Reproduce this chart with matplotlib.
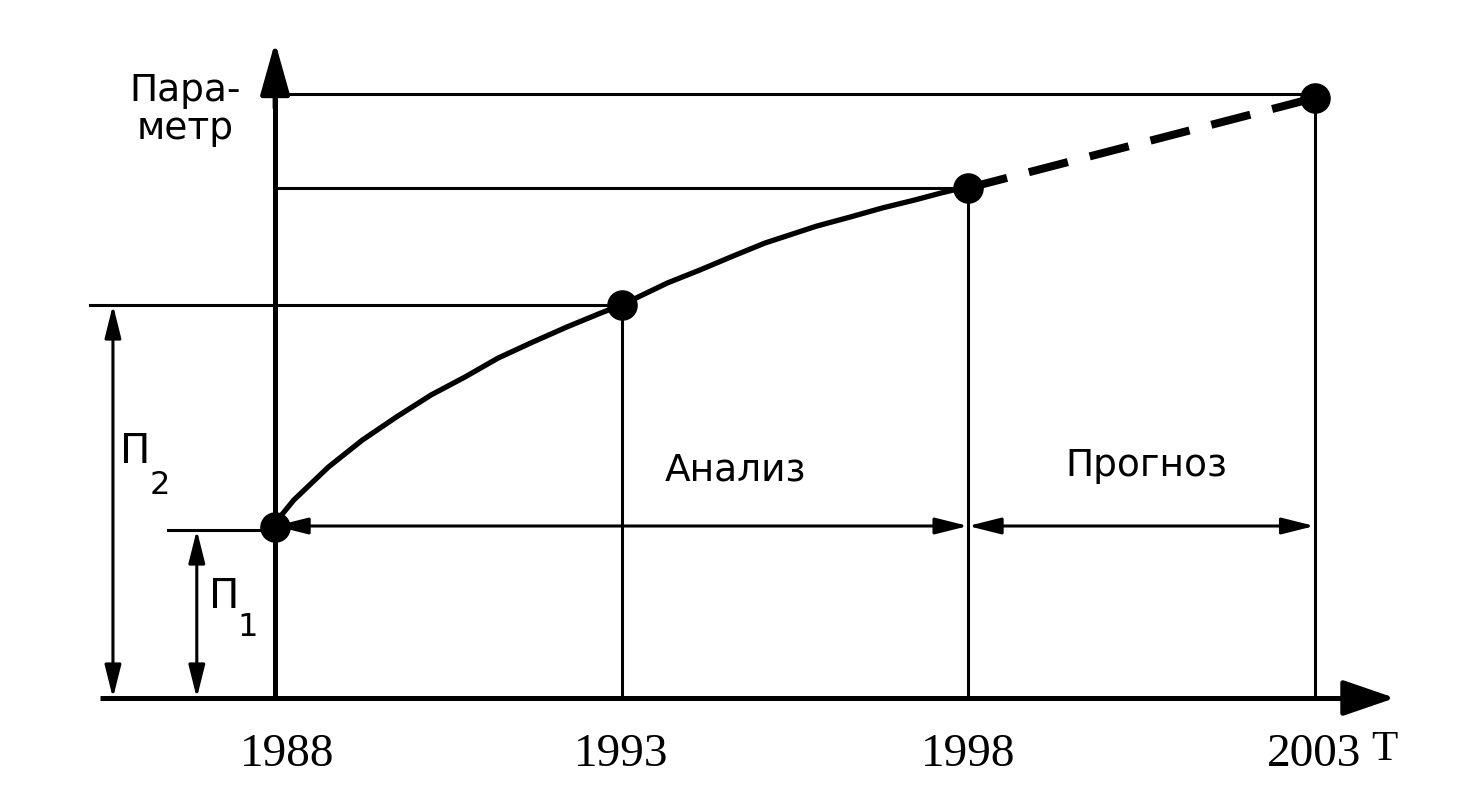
import matplotlib
matplotlib.use('Agg')
import matplotlib.pyplot as plt

# ===== Данные =====
years = [1988, 1993, 1998, 2003]          # опорные годы
values = [1.71, 3.93, 5.10, 6.0]           # значения параметра в опорных точках
year_labels = ['1988', '1993', '1998', '2003']

# точки кривой анализа (1988-1998)
curve_years = [1988, 1988.07, 1988.27, 1988.77, 1989.26, 1989.75, 1990.25, 1990.74,
               1991.22, 1991.72, 1992.21, 1992.70, 1993,
               1993.66, 1994.13, 1994.61, 1995.07, 1995.82, 1996.30, 1996.76,
               1997.23, 1997.61, 1997.79, 1998]
curve_values = [1.71, 1.81, 1.98, 2.31, 2.58, 2.81, 3.03, 3.21,
                3.40, 3.56, 3.71, 3.85, 3.93,
                4.15, 4.28, 4.42, 4.55, 4.72, 4.81, 4.90,
                4.98, 5.05, 5.08, 5.10]

# прогноз (1998-2003)
forecast_years = [1998, 2003]
forecast_values = [5.10, 6.0]

y_label = 'Пара-\nметр'
x_label = 'T'
period_labels = ['Анализ', 'Прогноз']

# узкий шрифт для годов: первый установленный из списка
narrow = ['Liberation Sans Narrow', 'DejaVu Sans Condensed', 'Liberation Serif']
plain = ['DejaVu Sans']

fig = plt.figure(figsize=(14.67, 8.06), dpi=100)
ax = fig.add_axes([0, 0, 1, 1])
ax.set_xlim(1984.03, 2005.2)
ax.set_ylim(-1.08, 6.98)
ax.axis('off')

thin = 2.2
thick = 3.6


def arrow(x0, y0, x1, y1, style, lw=thin, hl=2.0, hw=0.5, ms=10):
    """Стрелка в координатах данных."""
    ax.annotate('', xy=(x1, y1), xytext=(x0, y0),
                arrowprops=dict(arrowstyle=f'{style},head_length={hl},head_width={hw}',
                                color='black', lw=lw, shrinkA=0, shrinkB=0,
                                mutation_scale=ms))


# ===== Оси =====
ax.plot([1985.47, 2003.5], [0, 0], color='black', lw=thick, solid_capstyle='butt')
arrow(2003.4, 0, 2004.16, 0, '-|>', lw=thick, hl=3.2, hw=1.1)
ax.plot([years[0], years[0]], [0, 6.0], color='black', lw=thick, solid_capstyle='butt')
arrow(years[0], 5.9, years[0], 6.56, '-|>', lw=thick, hl=3.2, hw=0.9)

# ===== Горизонтальные уровни =====
ax.plot([years[0], years[3]], [values[3] + 0.04, values[3] + 0.04], color='black', lw=thin)
ax.plot([years[0], years[2]], [values[2], values[2]], color='black', lw=thin)
ax.plot([1985.33, years[1]], [values[1], values[1]], color='black', lw=thin)
ax.plot([1986.46, years[0]], [values[0] - 0.03, values[0] - 0.03], color='black', lw=thin)

# ===== Вертикальные линии =====
for yr, v in zip(years[1:], values[1:]):
    ax.plot([yr, yr], [0, v], color='black', lw=thin)

# ===== Размерные стрелки П1, П2 =====
arrow(1985.66, 0, 1985.66, values[1], '<|-|>')
arrow(1986.87, 0, 1986.87, values[0] - 0.03, '<|-|>')

# ===== Интервалы анализа и прогноза =====
arrow(years[0], values[0] + 0.01, years[2], values[0] + 0.01, '<|-|>')
arrow(years[2], values[0] + 0.01, years[3], values[0] + 0.01, '<|-|>')

# ===== Кривая и прогноз =====
ax.plot(curve_years, curve_values, color='black', lw=3.8, solid_capstyle='round',
        solid_joinstyle='round')
ax.plot(forecast_years, forecast_values, color='black', lw=5.8,
        linestyle=(0, (5.0, 2.8)))
ax.plot(years, values, 'o', color='black', ms=21, zorder=5)

# ===== Подписи =====
ax.text(1986.7, 5.88, y_label, ha='center', va='center', fontsize=27,
        family=plain, linespacing=1.05)
for yr, lab in zip(years, year_labels):
    ax.text(yr + (0.17 if yr == years[0] else 0), -0.57, lab, ha='center',
            va='center', fontsize=34, family=narrow, fontstretch='condensed')
ax.text(2004.0, -0.52, x_label, ha='center', va='center', fontsize=31,
        family=narrow, fontstretch='condensed')

ax.text(1994.64, 2.28, period_labels[0], ha='center', va='center', fontsize=27, family=plain)
ax.text(2000.58, 2.32, period_labels[1], ha='center', va='center', fontsize=27, family=plain)

ax.text(1985.98, 2.46, 'П', ha='center', va='center', fontsize=29, family=plain)
ax.text(1986.34, 2.13, '2', ha='center', va='center', fontsize=23, family=plain)
ax.text(1987.26, 1.01, 'П', ha='center', va='center', fontsize=29, family=plain)
ax.text(1987.61, 0.70, '1', ha='center', va='center', fontsize=23, family=plain)

fig.savefig('out.png', dpi=100, facecolor='white')
